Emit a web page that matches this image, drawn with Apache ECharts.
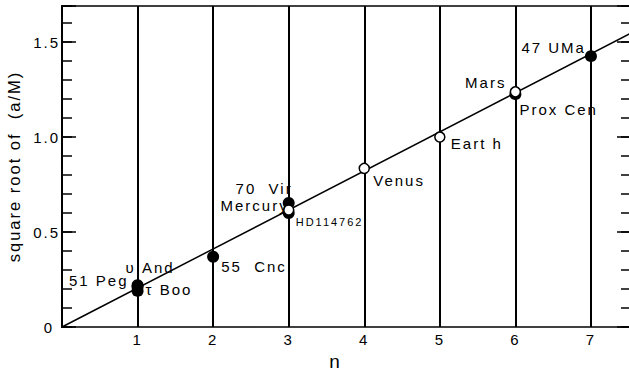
<!DOCTYPE html>
<html><head><meta charset="utf-8">
<script src="https://cdn.jsdelivr.net/npm/echarts@6/dist/echarts.min.js"></script>
<style>
html,body{margin:0;padding:0;background:#fff}
#c{width:629px;height:376px}
#c text{letter-spacing:2px}
</style></head><body><div id="c"></div>
<script>
// ---- data ----
const xTicks = [1, 2, 3, 4, 5, 6, 7];
const yTicks = [0, 0.5, 1.0, 1.5];
const filledNames = ['51 Peg', 'υ And', 'τ Boo', '55  Cnc', '70  Vir', 'HD114762', 'Prox Cen', '47 UMa'];
const filledN = [1, 1, 1, 2, 3, 3, 6, 7];
const filledV = [0.22, 0.21, 0.19, 0.37, 0.653, 0.60, 1.226, 1.426];
const openNames = ['Mercury', 'Venus', 'Eart h', 'Mars'];
const openN = [3, 4, 5, 6];
const openV = [0.616, 0.835, 1.0, 1.238];
const fitN = [0, 7.53];
const fitV = [0, 1.547];

// ---- label placement (style, not data) ----
const labelLayout = {
  '51 Peg':   {align: 'right', dx: -9,  dy: -5},
  'υ And':    {align: 'left',  dx: -12, dy: -20},
  'τ Boo':    {align: 'left',  dx: 8,   dy: -1},
  '55  Cnc':  {align: 'left',  dx: 8,   dy: 10},
  '70  Vir':  {align: 'right', dx: 4,   dy: -14},
  'HD114762': {align: 'left',  dx: 7,   dy: 9, size: 11},
  'Prox Cen': {align: 'left',  dx: 4,   dy: 15},
  '47 UMa':   {align: 'right', dx: -5,  dy: -9},
  'Mercury':  {align: 'right', dx: 0,   dy: -4},
  'Venus':    {align: 'left',  dx: 9,   dy: 12},
  'Eart h':   {align: 'left',  dx: 11,  dy: 6},
  'Mars':     {align: 'right', dx: -9,  dy: -9}
};
const FONT = 'Liberation Sans, Arial, sans-serif';

function makeItems(names, ns, vs) {
  return names.map((nm, i) => {
    const L = labelLayout[nm];
    return {
      value: [ns[i], vs[i]],
      name: nm,
      label: {
        show: true,
        position: 'inside',
        align: L.align,
        verticalAlign: 'middle',
        offset: [L.dx, L.dy],
        formatter: nm,
        color: '#000',
        fontFamily: FONT,
        fontSize: L.size || 15
      }
    };
  });
}

const isTick = (v, arr) => arr.some(t => Math.abs(t - v) < 1e-6);

const chart = echarts.init(document.getElementById('c'), null, {renderer: 'svg'});
const baseY = {
  type: 'value', min: 0, max: 1.69,
  splitLine: {show: false},
  axisLine: {show: true, onZero: false, lineStyle: {color: '#000', width: 2}},
  axisLabel: {show: false}
};
chart.setOption({
  animation: false,
  backgroundColor: '#fff',
  grid: {left: 62, right: -2, top: 6, bottom: 49, containLabel: false, outerBoundsMode: 'none'},
  xAxis: [{
    type: 'value', min: 0, max: 7.53, interval: 1, position: 'bottom',
    axisLine: {show: true, onZero: false, lineStyle: {color: '#000', width: 1.5}},
    axisTick: {show: false},
    axisLabel: {
      margin: 5, color: '#000', fontSize: 15, fontFamily: FONT,
      showMinLabel: true, showMaxLabel: true,
      formatter: v => isTick(v, xTicks) ? String(Math.round(v)) : ''
    },
    splitLine: {show: true, lineStyle: {color: '#000', width: 2}},
    name: 'n', nameLocation: 'middle', nameGap: 24,
    nameTextStyle: {fontSize: 19, color: '#000', fontFamily: FONT, padding: [0, 22, 0, 0]}
  }, {
    type: 'value', min: 0, max: 7.53, position: 'top',
    axisLine: {show: true, onZero: false, lineStyle: {color: '#000', width: 1.5}},
    axisTick: {show: false}, axisLabel: {show: false}, splitLine: {show: false}
  }],
  yAxis: [
    Object.assign({}, baseY, {
      position: 'left', interval: 0.5,
      axisTick: {show: true, inside: true, length: 14, lineStyle: {color: '#000', width: 1.5}},
      axisLabel: {
        show: true, margin: 2, color: '#000', fontSize: 15, fontFamily: FONT,
        formatter: v => isTick(v, yTicks) ? (v === 0 ? '{z|0}' : v.toFixed(1)) : '',
        rich: {z: {fontSize: 15, fontFamily: FONT, color: '#000', padding: [0, 6, 0, 0]}}
      },
      name: 'square root of  (a/M)', nameLocation: 'middle', nameGap: 40,
      nameTextStyle: {fontSize: 16.5, color: '#000', fontFamily: FONT}
    }),
    Object.assign({}, baseY, {
      position: 'left', interval: 0.1,
      axisTick: {show: true, inside: true, length: 10, lineStyle: {color: '#000', width: 1.5}}
    }),
    Object.assign({}, baseY, {
      position: 'right', interval: 0.5,
      axisTick: {show: true, inside: true, length: 14, lineStyle: {color: '#000', width: 1.5}}
    }),
    Object.assign({}, baseY, {
      position: 'right', interval: 0.1,
      axisTick: {show: true, inside: true, length: 10, lineStyle: {color: '#000', width: 1.5}}
    })
  ],
  series: [{
    type: 'line', silent: true, showSymbol: false, symbol: 'none',
    data: fitN.map((n, i) => [n, fitV[i]]),
    lineStyle: {color: '#000', width: 1.5}, z: 3
  }, {
    type: 'scatter', symbol: 'circle', symbolSize: 12,
    itemStyle: {color: '#000', opacity: 1},
    data: makeItems(filledNames, filledN, filledV), z: 4
  }, {
    type: 'scatter', symbol: 'circle', symbolSize: 10,
    itemStyle: {color: '#fff', borderColor: '#000', borderWidth: 1.5, opacity: 1},
    data: makeItems(openNames, openN, openV), z: 5
  }]
});
</script></body></html>
